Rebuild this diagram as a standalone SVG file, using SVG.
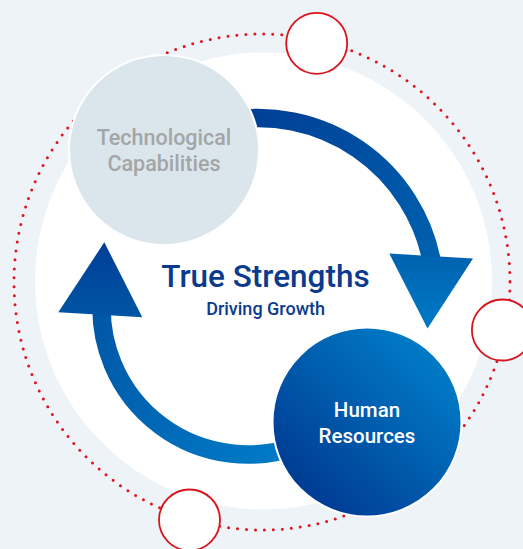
<svg xmlns="http://www.w3.org/2000/svg" width="523" height="549" viewBox="0 0 523 549">
  <style>
    .ring { fill: none; stroke: #e0131e; stroke-width: 3; stroke-linecap: round; stroke-dasharray: 0 9; }
    .marker { fill: #ffffff; stroke: #d8141d; stroke-width: 1.8; }
    .band { fill: none; stroke-width: 18.5; stroke-linecap: butt; }
    .node { stroke: #ffffff; stroke-width: 2; }
    text { font-family: Roboto, "Liberation Sans", sans-serif; font-weight: 500; text-anchor: middle; }
    .tech { fill: #a3a5a7; font-size: 21.5px; }
    .hr { fill: #ffffff; font-size: 20.5px; font-weight: 500; }
    .title { fill: #0a3b8e; font-size: 31.5px; }
    .sub { fill: #0a3b8e; font-size: 18px; }
  </style>
  <defs>
    <linearGradient id="gTop" gradientUnits="userSpaceOnUse" x1="250" y1="110" x2="440" y2="262">
      <stop offset="0" stop-color="#003f96"/>
      <stop offset="1" stop-color="#0061af"/>
    </linearGradient>
    <linearGradient id="gHead1" gradientUnits="userSpaceOnUse" x1="430" y1="254" x2="430" y2="328">
      <stop offset="0" stop-color="#0062b0"/>
      <stop offset="1" stop-color="#007ac6"/>
    </linearGradient>
    <linearGradient id="gLeft" gradientUnits="userSpaceOnUse" x1="285" y1="455" x2="100" y2="305">
      <stop offset="0" stop-color="#007bc7"/>
      <stop offset="1" stop-color="#0056a6"/>
    </linearGradient>
    <linearGradient id="gHead2" gradientUnits="userSpaceOnUse" x1="100" y1="242" x2="100" y2="317">
      <stop offset="0" stop-color="#003e97"/>
      <stop offset="1" stop-color="#0055a5"/>
    </linearGradient>
    <linearGradient id="gHR" gradientUnits="userSpaceOnUse" x1="300" y1="495" x2="440" y2="350">
      <stop offset="0" stop-color="#003a92"/>
      <stop offset="1" stop-color="#007ec9"/>
    </linearGradient>
  </defs>

  <!-- backdrop -->
  <rect width="523" height="549" fill="#eef3f8"/>
  <circle cx="263.5" cy="281" r="228.5" fill="#ffffff"/>

  <!-- dotted orbit -->
  <circle class="ring" cx="262" cy="282" r="248"/>

  <!-- orbit markers -->
  <g id="markers">
    <circle class="marker" cx="316.7" cy="43.3" r="30.5"/>
    <circle class="marker" cx="502.4" cy="330" r="30.5"/>
    <circle class="marker" cx="189.5" cy="520" r="30.5"/>
  </g>

  <!-- cycle arrows -->
  <g id="connectors">
    <path class="band" stroke="url(#gTop)" d="M 227.3 120.7 A 177 177 0 0 1 431.7 261.2"/>
    <polygon fill="url(#gHead1)" points="389.3,253.6 473,258.4 427.5,328.4"/>
    <path class="band" stroke="url(#gLeft)" d="M 298.1 445.7 A 146.5 146.5 0 0 1 101.9 297.8"/>
    <polygon fill="url(#gHead2)" points="104.3,242.3 58.3,312.3 142.3,317.3"/>
  </g>

  <g id="tech">
    <circle class="node" cx="164" cy="150" r="95" fill="#dbe5ec"/>
    <text class="tech" x="164" y="145">Technological</text>
    <text class="tech" x="164" y="171">Capabilities</text>
  </g>

  <g id="human">
    <circle class="node" cx="367" cy="422" r="94.5" fill="url(#gHR)"/>
    <text class="hr" x="367" y="416.7">Human</text>
    <text class="hr" x="367" y="442.7">Resources</text>
  </g>

  <g id="center">
    <text class="title" x="265.5" y="286.7">True Strengths</text>
    <text class="sub" x="265.6" y="315">Driving Growth</text>
  </g>
</svg>
